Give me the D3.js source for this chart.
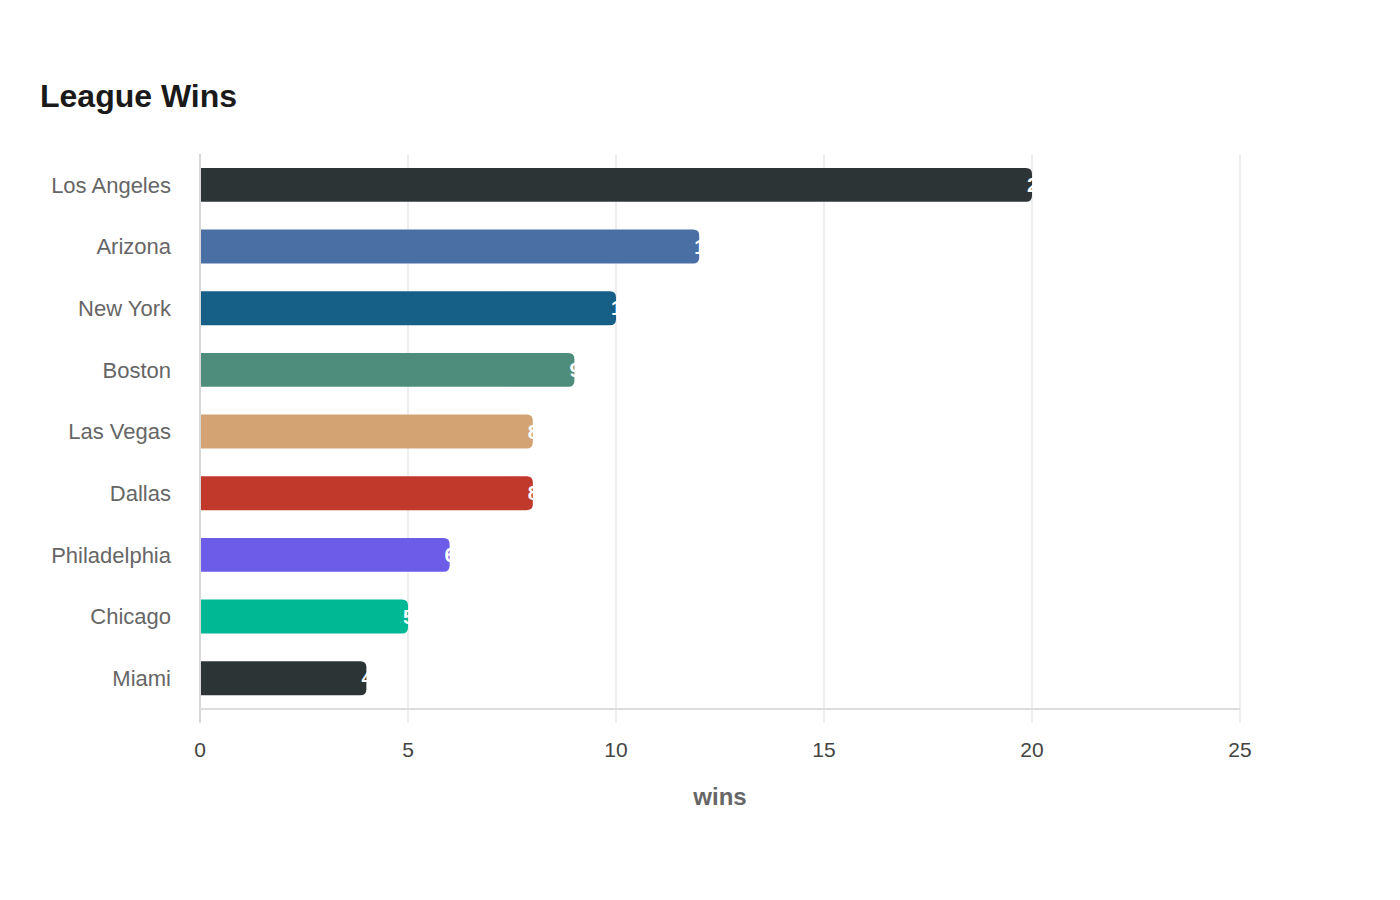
<!DOCTYPE html>
<html>
<head>
<meta charset="utf-8">
<script src="https://cdn.jsdelivr.net/npm/d3@7"></script>
<style>
	body { margin: 0; background: #fff; font-family: "Liberation Sans", Arial, sans-serif; }
</style>
</head>
<body>
<div id="chart"></div>
<script>
const teams = ["Los Angeles", "Arizona", "New York", "Boston", "Las Vegas", "Dallas", "Philadelphia", "Chicago", "Miami"];
const wins = [20, 12, 10, 9, 8, 8, 6, 5, 4];
const colors = ["#2d3436", "#4a6fa5", "#166088", "#4e8d7c", "#d4a373", "#c0392b", "#6c5ce7", "#00b894", "#2d3436"];
const ticks = [0, 5, 10, 15, 20, 25];

const data = teams.map((t, i) => ({ team: t, wins: wins[i], color: colors[i] }));

const width = 1400, height = 900;
const margin = { top: 154, left: 200, right: 160, bottom: 191 };

const svg = d3.select("#chart")
	.append("svg")
	.attr("width", width)
	.attr("height", height);

svg.append("text")
	.attr("x", 40)
	.attr("y", 107)
	.attr("font-size", 32)
	.attr("font-weight", "bold")
	.attr("fill", "#1a1a1a")
	.text("League Wins");

const x = d3.scaleLinear()
	.domain([0, 25])
	.range([margin.left, width - margin.right]);

const y = d3.scaleBand()
	.domain(teams)
	.range([margin.top, height - margin.bottom])
	.paddingInner(0.45)
	.paddingOuter(0.225);

// grid
svg.append("g")
	.selectAll("line")
	.data(ticks)
	.enter()
	.append("line")
	.attr("x1", (d) => x(d))
	.attr("x2", (d) => x(d))
	.attr("y1", margin.top)
	.attr("y2", height - margin.bottom + 14)
	.attr("stroke", (d) => d === 0 ? "#d8d8d8" : "#eeeeee")
	.attr("stroke-width", 2);

svg.append("line")
	.attr("x1", x(0))
	.attr("x2", x(25))
	.attr("y1", height - margin.bottom)
	.attr("y2", height - margin.bottom)
	.attr("stroke", "#dddddd")
	.attr("stroke-width", 2);

// bars with rounded right end
const r = 6;
function barPath(d) {
	const x0 = x(0) + 1, x1 = x(d.wins), y0 = y(d.team), h = y.bandwidth();
	return `M${x0},${y0}H${x1 - r}Q${x1},${y0} ${x1},${y0 + r}V${y0 + h - r}Q${x1},${y0 + h} ${x1 - r},${y0 + h}H${x0}Z`;
}

svg.append("g")
	.selectAll("path")
	.data(data)
	.enter()
	.append("path")
	.attr("d", barPath)
	.attr("fill", (d) => d.color);

svg.append("g")
	.selectAll("text")
	.data(data)
	.enter()
	.append("text")
	.attr("x", (d) => x(d.wins) - 5)
	.attr("y", (d) => y(d.team) + y.bandwidth() / 2)
	.attr("dy", "0.35em")
	.attr("font-size", 20)
	.attr("font-weight", "bold")
	.attr("fill", "#ffffff")
	.text((d) => d.wins);

// category labels
svg.append("g")
	.selectAll("text")
	.data(data)
	.enter()
	.append("text")
	.attr("x", 171)
	.attr("y", (d) => y(d.team) + y.bandwidth() / 2)
	.attr("dy", "0.35em")
	.attr("text-anchor", "end")
	.attr("font-size", 22)
	.attr("fill", "#666666")
	.text((d) => d.team);

// x tick labels
svg.append("g")
	.selectAll("text")
	.data(ticks)
	.enter()
	.append("text")
	.attr("x", (d) => x(d))
	.attr("y", 757)
	.attr("text-anchor", "middle")
	.attr("font-size", 21)
	.attr("fill", "#444444")
	.text((d) => d);

svg.append("text")
	.attr("x", (x(0) + x(25)) / 2)
	.attr("y", 805)
	.attr("text-anchor", "middle")
	.attr("font-size", 24)
	.attr("font-weight", "bold")
	.attr("fill", "#666666")
	.text("wins");
</script>
</body>
</html>
